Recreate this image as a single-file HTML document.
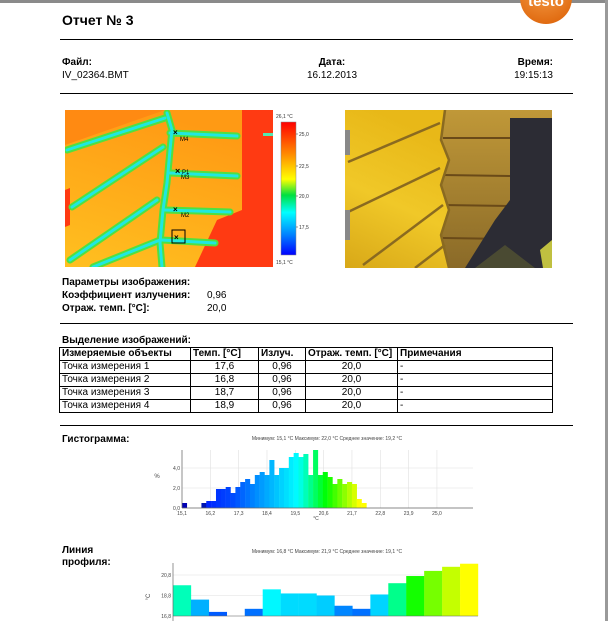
<!DOCTYPE html>
<html><head><meta charset="utf-8">
<style>
body{margin:0;width:608px;height:621px;overflow:hidden;background:#fff;font-family:"Liberation Sans",sans-serif;color:#000;position:relative}
.a{position:absolute;white-space:nowrap}
.b{font-weight:bold;font-size:10px}
.t{font-size:10px}
.hr{position:absolute;left:60px;width:513px;height:1px;background:#000}
table{position:absolute;left:59px;top:347px;border-collapse:collapse;font-size:10px}
td{border:1px solid #000;height:12px;padding:0 2px;line-height:12px}
th{border:1px solid #000;height:12px;padding:0 2px;line-height:12px;text-align:left}
</style></head><body>
<div class="a" style="left:0;top:0;width:608px;height:3px;background:#8a8a8a"></div>
<div class="a" style="left:605px;top:0;width:3px;height:621px;background:#9a9a9a"></div>
<div class="a" style="left:62px;top:12px;font-size:14px;font-weight:bold">Отчет № 3</div>
<svg class="a" style="left:518px;top:0" width="56" height="32">
<defs><radialGradient id="og" cx="0.45" cy="0.3" r="0.7"><stop offset="0" stop-color="#f7a04a"/><stop offset="1" stop-color="#e06a10"/></radialGradient></defs>
<circle cx="28" cy="-2" r="26" fill="url(#og)"/>
<text x="28" y="6" text-anchor="middle" fill="#fff" font-size="15" font-weight="bold" font-family="Liberation Sans">testo</text></svg>
<div class="hr" style="top:39px"></div>
<div class="a b" style="left:62px;top:57px">Файл:</div>
<div class="a t" style="left:62px;top:70px">IV_02364.BMT</div>
<div class="a b" style="left:312px;top:57px;width:40px;text-align:center">Дата:</div>
<div class="a t" style="left:292px;top:70px;width:80px;text-align:center">16.12.2013</div>
<div class="a b" style="left:500px;top:57px;width:53px;text-align:right">Время:</div>
<div class="a t" style="left:500px;top:70px;width:53px;text-align:right">19:15:13</div>
<div class="hr" style="top:93px"></div>

<svg class="a" style="left:65px;top:110px" width="208" height="157">
<defs><linearGradient id="tg" x1="0" y1="1" x2="0.4" y2="0"><stop offset="0" stop-color="#ffc020"/><stop offset="1" stop-color="#ff9a14"/></linearGradient></defs>
<rect width="208" height="157" fill="url(#tg)"/>
<path d="M0 0 L100 0 L0 35Z" fill="#ff8a12"/>
<path d="M177 0 L208 0 L208 157 L130 157 L152 110 L177 100Z" fill="#ff3a12"/>
<path d="M0 80 L5 78 L5 115 L0 117Z" fill="#ff3a12"/>
<g fill="none" stroke-linecap="round">
<g stroke="#50e040" stroke-width="7">
<path d="M102 3 L107 20 L105 40 L102 73 L98 100 L95 133 L97 157"/>
<path d="M2 40 L100 8"/><path d="M7 97 L98 37"/><path d="M5 150 L92 90"/><path d="M28 157 L95 130"/>
<path d="M105 23 L172 26"/><path d="M105 63 L172 66"/><path d="M100 100 L165 102"/><path d="M97 130 L150 133"/></g>
<g stroke="#20e8e0" stroke-width="3">
<path d="M102 3 L107 20 L105 40 L102 73 L98 100 L95 133 L97 157"/>
<path d="M2 40 L100 8"/><path d="M7 97 L98 37"/><path d="M5 150 L92 90"/><path d="M28 157 L95 130"/>
<path d="M105 23 L172 26"/><path d="M105 63 L172 66"/><path d="M100 100 L165 102"/><path d="M97 130 L150 133"/></g>
</g>
<rect x="198" y="23" width="10" height="3" fill="#50e8b0"/>
<g font-size="6" font-family="Liberation Sans">
<text x="108" y="25" font-size="8" font-weight="bold">×</text><text x="115" y="31">M4</text>
<text x="110" y="64" font-size="9" font-weight="bold">×</text><text x="117" y="64">P1</text><text x="116" y="69">M3</text>
<text x="108" y="102" font-size="8" font-weight="bold">×</text><text x="116" y="107">M2</text>
<rect x="107" y="120" width="13" height="13" fill="none" stroke="#000" stroke-width="1"/><text x="109" y="130" font-size="8" font-weight="bold">×</text></g>
</svg>
<svg class="a" style="left:272px;top:110px" width="50" height="160">
<defs><linearGradient id="cs" x1="0" y1="0" x2="0" y2="1"><stop offset="0" stop-color="#ff0000"/><stop offset="0.25" stop-color="#ff9000"/><stop offset="0.43" stop-color="#ffff00"/><stop offset="0.55" stop-color="#00e040"/><stop offset="0.68" stop-color="#00ffff"/><stop offset="0.85" stop-color="#0080ff"/><stop offset="1" stop-color="#0000ff"/></linearGradient></defs>
<rect x="9" y="12" width="15" height="133" fill="url(#cs)" stroke="#888" stroke-width="0.5"/>
<g font-size="5" font-family="Liberation Sans" fill="#333"><text x="4" y="8">26,1 °C</text><text x="4" y="154">15,1 °C</text>
<text x="27" y="26">25,0</text><text x="27" y="58">22,5</text><text x="27" y="88">20,0</text><text x="27" y="119">17,5</text></g>
<g stroke="#333" stroke-width="0.5"><line x1="24" x2="26" y1="24" y2="24"/><line x1="24" x2="26" y1="56" y2="56"/><line x1="24" x2="26" y1="86" y2="86"/><line x1="24" x2="26" y1="117" y2="117"/></g></svg>
<svg class="a" style="left:345px;top:110px" width="207" height="158">
<defs><linearGradient id="rl" x1="0" y1="0" x2="0" y2="1"><stop offset="0" stop-color="#c09838"/><stop offset="1" stop-color="#8a6a28"/></linearGradient>
<linearGradient id="yl" x1="0" y1="1" x2="0.3" y2="0"><stop offset="0" stop-color="#d8a818"/><stop offset="0.5" stop-color="#f0c828"/><stop offset="1" stop-color="#e8b818"/></linearGradient></defs>
<rect width="207" height="158" fill="url(#rl)"/>
<g stroke="#6a4a18" stroke-width="2" fill="none"><path d="M98 28 L165 28"/><path d="M98 65 L165 66"/><path d="M98 95 L165 96"/><path d="M98 128 L165 129"/></g>
<path d="M0 0 L100 0 L96 30 L104 50 L96 75 L104 100 L96 125 L104 158 L0 158Z" fill="url(#yl)"/>
<g stroke="#8a6a20" stroke-width="2.5" fill="none"><path d="M3 52 L95 13"/><path d="M3 102 L95 58"/><path d="M18 155 L98 95"/><path d="M70 158 L100 135"/><path d="M100 0 L96 30 L104 50 L96 75 L104 100 L96 125 L104 158"/></g>
<rect x="0" y="20" width="5" height="25" fill="#888"/><rect x="0" y="100" width="5" height="30" fill="#888"/>
<path d="M165 8 L207 8 L207 158 L120 158 L150 110 L165 90Z" fill="#2c2c34"/>
<path d="M130 158 L160 135 L190 158Z" fill="#4a4a32"/><path d="M195 140 L207 130 L207 158 L198 158Z" fill="#c0c040"/></svg>

<div class="a b" style="left:62px;top:277px">Параметры изображения:</div>
<div class="a b" style="left:62px;top:290px">Коэффициент излучения:</div>
<div class="a t" style="left:207px;top:290px">0,96</div>
<div class="a b" style="left:62px;top:303px">Отраж. темп. [°C]:</div>
<div class="a t" style="left:207px;top:303px">20,0</div>
<div class="hr" style="top:323px"></div>
<div class="a b" style="left:62px;top:335px">Выделение изображений:</div>
<table>
<tr><th style="width:126px">Измеряемые объекты</th><th style="width:63px">Темп. [°C]</th><th style="width:42px">Излуч.</th><th style="width:87px">Отраж. темп. [°C]</th><th style="width:150px">Примечания</th></tr>
<tr><td>Точка измерения 1</td><td align="center">17,6</td><td align="center">0,96</td><td align="center">20,0</td><td>-</td></tr>
<tr><td>Точка измерения 2</td><td align="center">16,8</td><td align="center">0,96</td><td align="center">20,0</td><td>-</td></tr>
<tr><td>Точка измерения 3</td><td align="center">18,7</td><td align="center">0,96</td><td align="center">20,0</td><td>-</td></tr>
<tr><td>Точка измерения 4</td><td align="center">18,9</td><td align="center">0,96</td><td align="center">20,0</td><td>-</td></tr>
</table>
<div class="hr" style="top:425px"></div>
<div class="a b" style="left:62px;top:434px">Гистограмма:</div>
<div class="a b" style="left:62px;top:545px;line-height:12px">Линия<br>профиля:</div>

<svg class="a" style="left:0;top:0" width="608" height="621" id="charts"></svg>
<script>
const histStart = 15.1;
const histBinWidth = 0.1885;
const histValues = [0.5,0,0,0,0.5,0.7,0.7,1.9,1.9,2.1,1.5,2.1,2.6,2.9,2.4,3.3,3.6,3.3,4.8,3.3,4.0,4.0,5.1,5.5,5.1,5.4,3.3,5.8,3.3,3.6,3.1,2.4,2.9,2.4,2.6,2.4,0.9,0.5];
const histXTicks = ["15,1","16,2","17,3","18,4","19,5","20,6","21,7","22,8","23,9","25,0"];
const histYTicks = ["0,0","2,0","4,0"];
const profileValues = [19.8,18.4,17.2,16.8,17.5,19.4,19.0,19.0,18.8,17.8,17.5,18.9,20.0,20.7,21.2,21.6,21.9];
const profileYTicks = ["16,8","18,8","20,8"];
const NS="http://www.w3.org/2000/svg";
const svg=document.getElementById('charts');
function mk(t,a,p){const e=document.createElementNS(NS,t);for(const k in a)e.setAttribute(k,a[k]);(p||svg).appendChild(e);return e;}
function hue(t){const s=[[15.1,240],[17,222],[19.5,180],[20.6,120],[21.9,60]];if(t<=s[0][0])return 240;for(let i=1;i<s.length;i++){if(t<=s[i][0]){const f=(t-s[i-1][0])/(s[i][0]-s[i-1][0]);return s[i-1][1]+f*(s[i][1]-s[i-1][1]);}}return 60;}
function col(t){const l=t<16?35:50;return `hsl(${hue(t)},100%,${l}%)`;}
function num(s){return parseFloat(s.replace(',','.'));}
// histogram
const hx0=182,hx1=473,hy0=508,hyTop=450;
const hxs=t=>hx0+(t-15.1)*(hx1-hx0)/(26.4-15.1);
const hys=v=>hy0-v*10;
let t=mk('text',{x:327,y:440,'font-size':5,'text-anchor':'middle',fill:'#444'});t.textContent='Минимум: 15,1 °C Максимум: 22,0 °C Среднее значение: 19,2 °C';


histXTicks.forEach(s=>{const x=hxs(num(s));const l=mk('line',{x1:x,x2:x,y1:hyTop,y2:hy0,stroke:'#e0e0e0','stroke-width':0.6});
const tx=mk('text',{x:x,y:hy0+7,'font-size':5,'text-anchor':'middle',fill:'#444'});tx.textContent=s;});
histYTicks.forEach(s=>{const y=hys(num(s));const l=mk('line',{x1:hx0,x2:hx1,y1:y,y2:y,stroke:'#e0e0e0','stroke-width':0.6});
const tx=mk('text',{x:hx0-2,y:y+2,'font-size':5,'text-anchor':'end',fill:'#444'});tx.textContent=s;});
histValues.forEach((v,i)=>{const a=histStart+i*histBinWidth;const x=hxs(a),w=hxs(a+histBinWidth)-x;const r=mk('rect',{x:x,y:hys(v),width:w+0.2,height:hy0-hys(v),fill:col(a)});});
mk('line',{x1:hx0,x2:hx0,y1:hyTop,y2:hy0,stroke:'#666','stroke-width':0.7});
mk('line',{x1:hx0,x2:hx1,y1:hy0,y2:hy0,stroke:'#666','stroke-width':0.7});
t=mk('text',{x:157,y:478,'font-size':6,'text-anchor':'middle',fill:'#444'});t.textContent='%';
t=mk('text',{x:316,y:520,'font-size':5,'text-anchor':'middle',fill:'#444'});t.textContent='°C';
// profile
const px0=173,px1=478,pyTop=563,pMin=16.8,pBase=616;
const pys=v=>pBase-(v-pMin)*10.25;
const pw=(px1-px0)/profileValues.length;
t=mk('text',{x:327,y:553,'font-size':5,'text-anchor':'middle',fill:'#444'});t.textContent='Минимум: 16,8 °C Максимум: 21,9 °C Среднее значение: 19,1 °C';


profileYTicks.forEach(s=>{const y=pys(num(s));const l=mk('line',{x1:px0,x2:px1,y1:y,y2:y,stroke:'#e0e0e0','stroke-width':0.6});
const tx=mk('text',{x:px0-2,y:y+2,'font-size':5,'text-anchor':'end',fill:'#444'});tx.textContent=s;});
profileValues.forEach((v,i)=>{const x=px0+i*pw;const r=mk('rect',{x:x,y:pys(v),width:pw+0.2,height:pBase-pys(v),fill:col(v)});});
mk('line',{x1:px0,x2:px0,y1:pyTop,y2:621,stroke:'#666','stroke-width':0.7});
mk('line',{x1:px0,x2:px1,y1:pBase,y2:pBase,stroke:'#666','stroke-width':0.5});
t=mk('text',{x:150,y:597,'font-size':6,'text-anchor':'middle',fill:'#444',transform:'rotate(-90 150 597)'});t.textContent='°C';
</script>
</body></html>
